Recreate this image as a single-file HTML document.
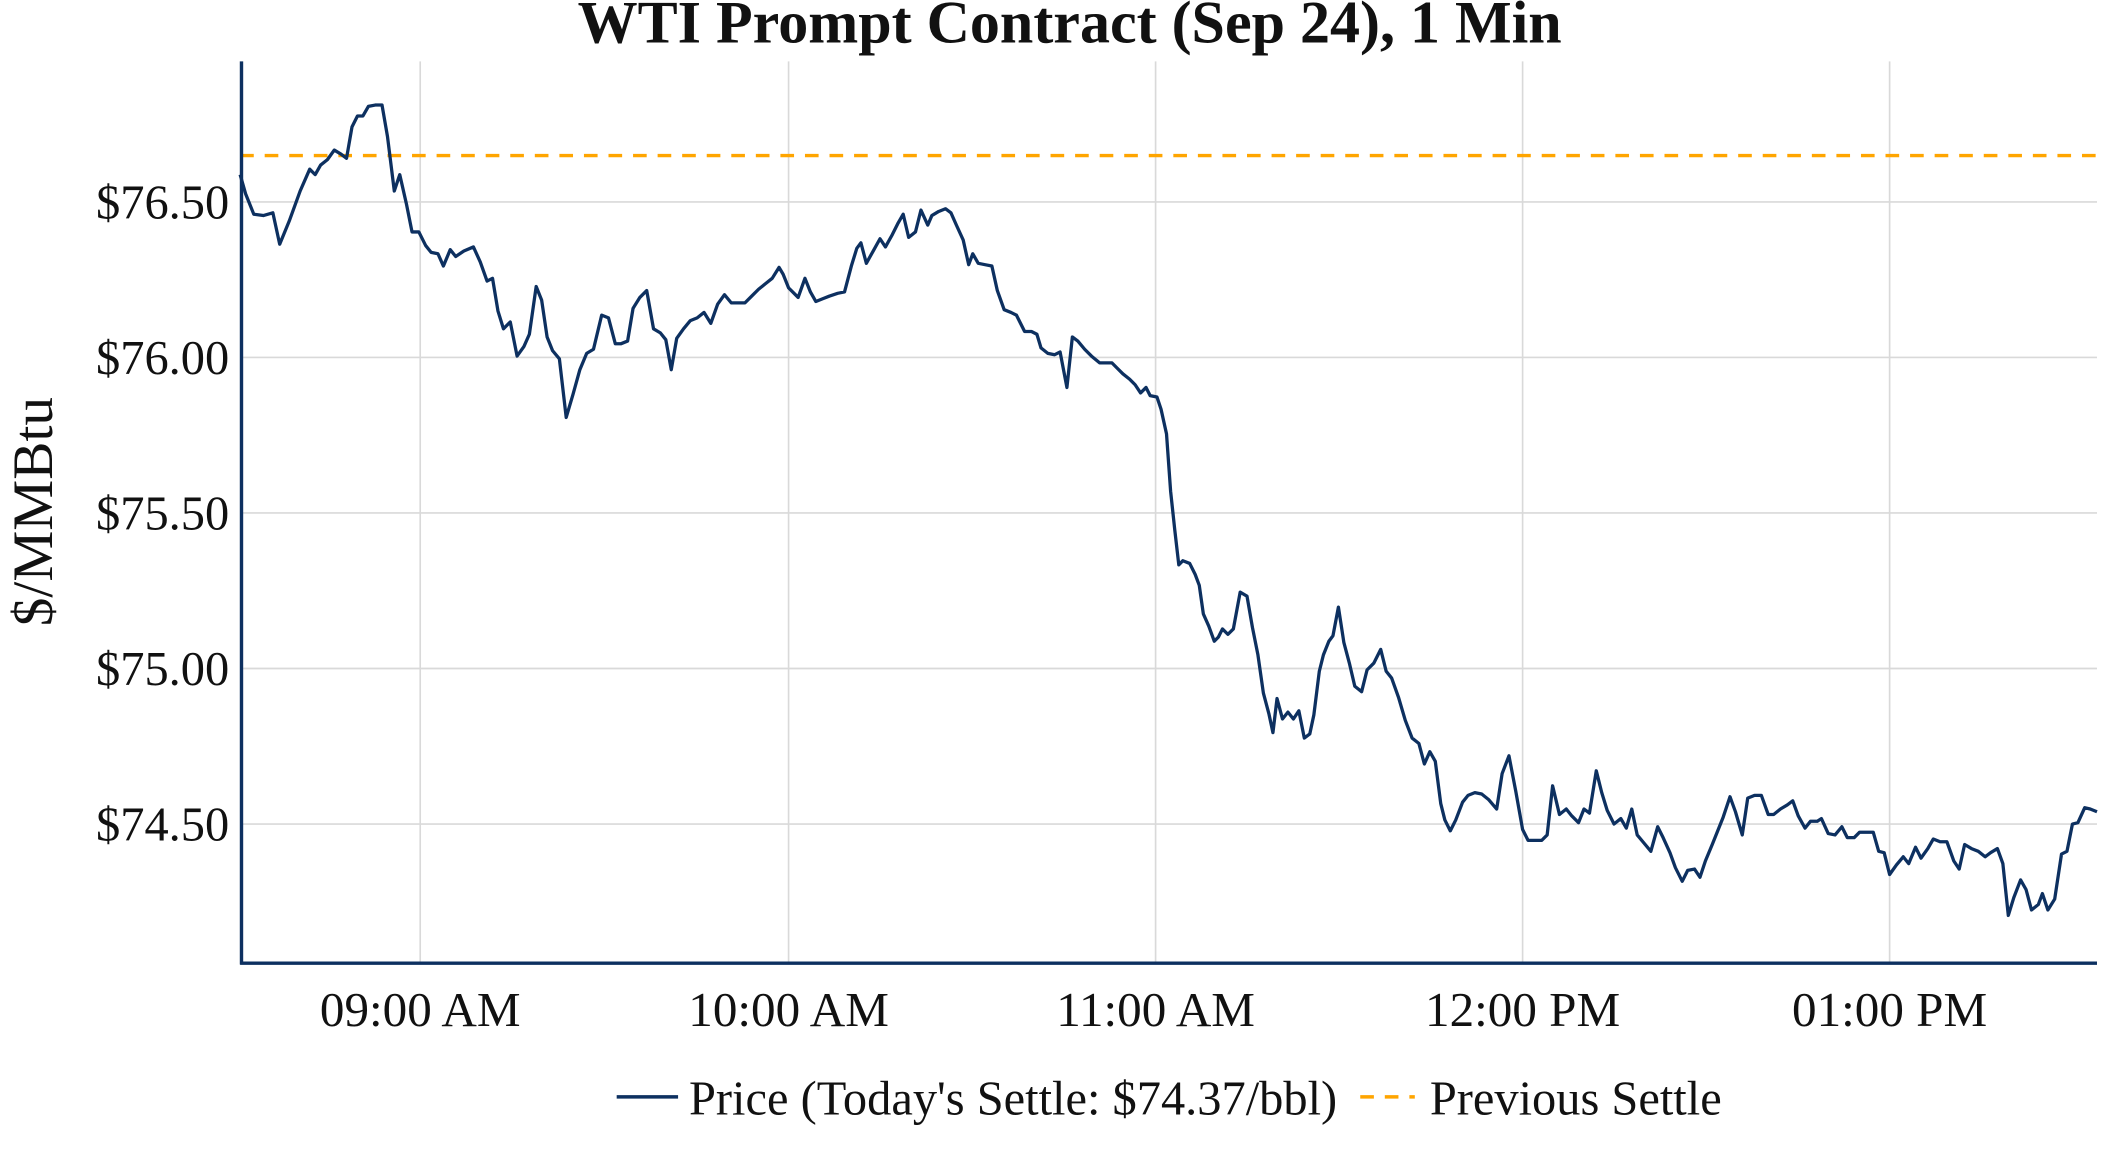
<!DOCTYPE html>
<html><head><meta charset="utf-8"><style>html,body{margin:0;padding:0;background:#fff;}svg{display:block}</style></head>
<body>
<svg width="2112" height="1152" viewBox="0 0 1548 844.4" preserveAspectRatio="none" xmlns="http://www.w3.org/2000/svg" font-family="'Liberation Serif', serif">
<rect width="1548" height="845" fill="#fff"/>
<g stroke="#d9d9d9" stroke-width="1.2">
<line x1="308" y1="45" x2="308" y2="706"/><line x1="578" y1="45" x2="578" y2="706"/><line x1="847" y1="45" x2="847" y2="706"/><line x1="1116" y1="45" x2="1116" y2="706"/><line x1="1385" y1="45" x2="1385" y2="706"/>
<line x1="176" y1="148" x2="1537" y2="148"/><line x1="176" y1="262" x2="1537" y2="262"/><line x1="176" y1="376" x2="1537" y2="376"/><line x1="176" y1="490" x2="1537" y2="490"/><line x1="176" y1="604" x2="1537" y2="604"/>
</g>
<line x1="176" y1="114" x2="1537" y2="114" stroke="#ffa500" stroke-width="2.5" stroke-dasharray="10,8"/>
<polyline fill="none" stroke="#0d3060" stroke-width="2.4" stroke-linejoin="round" points="176,128 180,142 186,157 193,158 200,156 205,179 212,162 220,140 227,124 231,128 235,121 240,117 245,110 250,113 254,116 258,93 262,85 266,85 270,78 275,77 280,77 284,100 289,140 293,128 298,150 302,170 307,170 312,180 316,185 321,186 325,195 330,183 334,188 340,184 347,181 352,192 357,206 361,204 365,228 369,241 374,236 379,261 384,254 388,245 393,210 397,220 401,247 405,257 410,263 415,306 420,289 425,271 430,259 435,256 441,231 446,233 451,252 455,252 460,250 464,226 469,218 474,213 479,241 484,244 488,249 492,271 496,248 501,241 506,235 511,233 516,229 521,237 526,223 531,216 536,222 541,222 546,222 551,217 556,212 561,208 566,204 571,196 574,201 578,211 582,215 585,218 590,204 594,214 598,221 603,219 608,217 614,215 619,214 624,195 628,182 631,178 635,193 640,184 645,175 649,181 654,172 658,164 662,157 666,174 671,170 675,154 680,165 683,158 688,155 693,153 697,156 701,165 706,176 710,194 713,186 717,193 722,194 727,195 731,213 736,227 741,229 745,231 751,243 756,243 760,245 763,255 768,259 773,260 777,258 782,284 786,247 790,250 795,256 800,261 806,266 811,266 815,266 819,270 823,274 828,278 832,282 836,288 840,284 843,290 848,291 851,300 855,318 858,360 861,388 864,414 867,411 872,413 876,421 879,429 882,450 886,459 890,470 893,467 896,461 900,465 904,461 909,434 914,437 918,460 922,480 926,508 930,523 933,537 936,512 940,527 944,522 948,527 952,521 956,541 960,538 963,524 967,492 970,480 974,470 977,466 981,445 985,471 989,486 993,503 998,507 1002,491 1007,486 1012,476 1016,492 1020,497 1025,511 1030,528 1035,541 1040,545 1044,560 1048,551 1052,558 1056,589 1059,601 1063,609 1067,601 1072,588 1076,583 1081,581 1086,582 1091,586 1097,593 1101,567 1106,554 1111,580 1116,608 1120,616 1126,616 1130,616 1134,612 1138,576 1143,597 1148,593 1152,598 1157,603 1161,593 1165,596 1170,565 1174,581 1178,594 1183,604 1188,600 1192,607 1196,593 1200,612 1205,618 1210,624 1215,606 1219,614 1224,625 1228,636 1233,646 1237,638 1242,637 1246,643 1250,631 1255,619 1259,609 1263,599 1268,584 1272,595 1277,612 1281,585 1286,583 1291,583 1296,597 1300,597 1305,593 1310,590 1314,587 1318,598 1323,607 1327,602 1332,602 1335,600 1340,611 1345,612 1350,606 1354,614 1359,614 1363,610 1368,610 1373,610 1377,624 1381,625 1385,641 1390,634 1395,628 1399,633 1404,621 1408,629 1413,622 1417,615 1422,617 1427,617 1432,631 1436,637 1440,619 1445,622 1450,624 1455,628 1459,625 1464,622 1468,633 1472,671 1476,658 1481,645 1485,652 1489,667 1494,663 1497,655 1501,667 1506,659 1511,626 1515,624 1519,604 1523,603 1528,592 1532,593 1537,595"/>
<line x1="177" y1="45" x2="177" y2="707" stroke="#0d3060" stroke-width="2.5"/>
<line x1="176" y1="706" x2="1537" y2="706" stroke="#0d3060" stroke-width="2.5"/>
<g font-size="35.5" fill="#111" text-anchor="end">
<text x="168" y="160">$76.50</text><text x="168" y="274">$76.00</text><text x="168" y="388">$75.50</text><text x="168" y="502">$75.00</text><text x="168" y="616">$74.50</text>
</g>
<g font-size="36" fill="#111" text-anchor="middle">
<text x="308" y="752">09:00 AM</text><text x="578" y="752">10:00 AM</text><text x="847" y="752">11:00 AM</text><text x="1116" y="752">12:00 PM</text><text x="1385" y="752">01:00 PM</text>
</g>
<text x="784" y="31" font-size="44" font-weight="bold" text-anchor="middle" fill="#111">WTI Prompt Contract (Sep 24), 1 Min</text>
<text transform="translate(38,375) rotate(-90)" font-size="42" text-anchor="middle" fill="#111">$/MMBtu</text>
<line x1="452" y1="804" x2="497" y2="804" stroke="#0d3060" stroke-width="2.5"/>
<text x="505" y="817" font-size="35.5" fill="#111">Price (Today's Settle: $74.37/bbl)</text>
<line x1="997" y1="804" x2="1037" y2="804" stroke="#ffa500" stroke-width="2.5" stroke-dasharray="10,8"/>
<text x="1048" y="817" font-size="35.5" fill="#111">Previous Settle</text>
</svg>
</body></html>
